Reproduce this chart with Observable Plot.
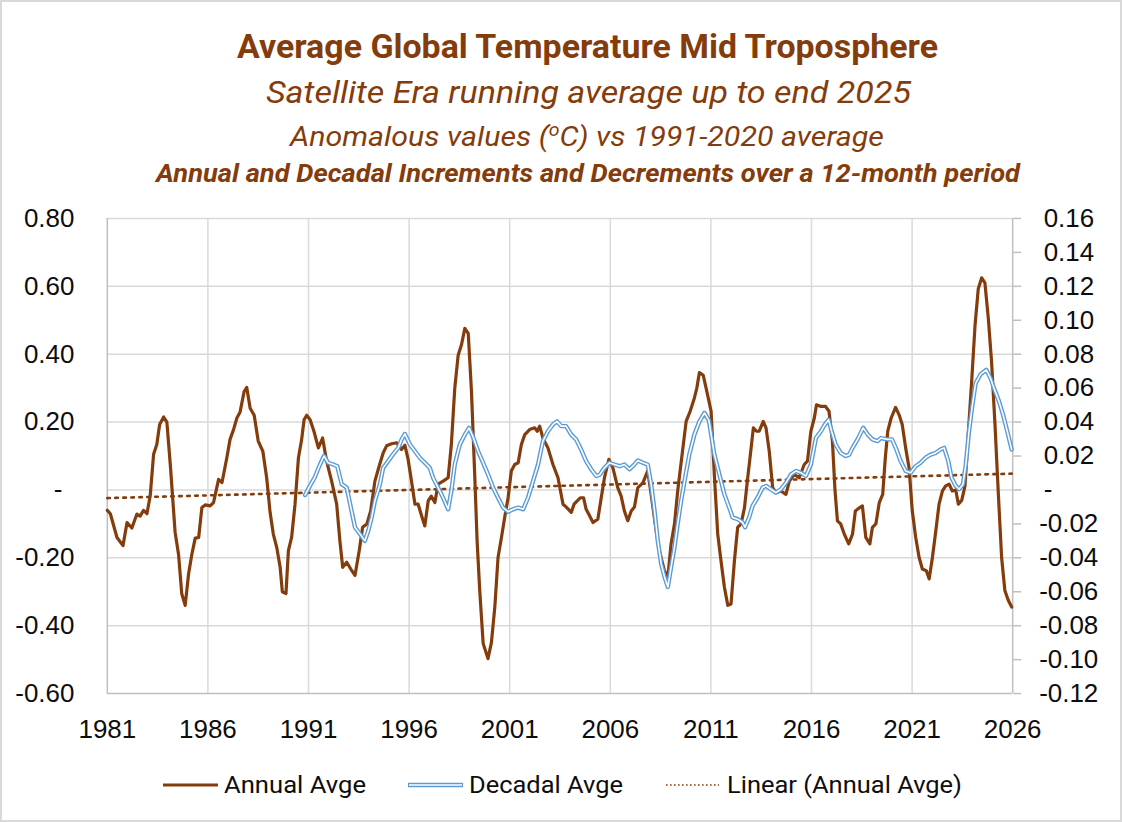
<!DOCTYPE html>
<html><head><meta charset="utf-8">
<script src="https://cdn.jsdelivr.net/npm/d3@7"></script>
<script src="https://cdn.jsdelivr.net/npm/@observablehq/plot@0.6"></script>
<style>
html,body{margin:0;padding:0;background:#fff;overflow:hidden}
#chart{position:relative;width:1122px;height:822px;box-sizing:border-box;border:2px solid #d9d9d9;background:#fff;overflow:hidden}
#titles{position:absolute;left:-2px;top:-2px}
#plot{position:absolute;left:-2px;top:186px}
#legend{position:absolute;left:-2px;top:756px}
</style></head>
<body>
<div id="chart"><div id="titles"></div><div id="plot"></div><div id="legend"></div></div>
<script>
// ---------- data ----------
const annualYear = [1981.0,1981.15,1981.48,1981.78,1981.98,1982.22,1982.47,1982.63,1982.8,1982.97,1983.13,1983.3,1983.46,1983.6,1983.8,1983.96,1984.13,1984.37,1984.54,1984.7,1984.87,1985.04,1985.2,1985.37,1985.54,1985.7,1985.87,1986.11,1986.28,1986.53,1986.7,1986.94,1987.1,1987.27,1987.44,1987.6,1987.8,1987.93,1988.1,1988.3,1988.5,1988.73,1988.92,1989.09,1989.25,1989.42,1989.59,1989.7,1989.88,1990.0,1990.16,1990.33,1990.5,1990.66,1990.78,1990.91,1991.08,1991.27,1991.49,1991.7,1991.9,1992.15,1992.4,1992.56,1992.7,1992.9,1993.1,1993.31,1993.52,1993.69,1993.9,1994.09,1994.3,1994.51,1994.71,1994.88,1995.13,1995.38,1995.62,1995.79,1995.95,1996.12,1996.29,1996.45,1996.62,1996.78,1996.95,1997.1,1997.28,1997.44,1997.69,1997.94,1998.1,1998.27,1998.44,1998.6,1998.77,1998.94,1999.1,1999.26,1999.38,1999.51,1999.68,1999.92,2000.09,2000.26,2000.42,2000.59,2000.75,2000.92,2001.08,2001.25,2001.42,2001.58,2001.75,2001.99,2002.24,2002.37,2002.49,2002.65,2002.9,2003.15,2003.4,2003.65,2003.8,2004.06,2004.2,2004.51,2004.67,2004.8,2004.97,2005.14,2005.38,2005.55,2005.71,2005.93,2006.13,2006.37,2006.54,2006.7,2006.87,2007.04,2007.2,2007.37,2007.62,2007.86,2008.03,2008.28,2008.44,2008.69,2008.86,2009.02,2009.19,2009.35,2009.57,2009.77,2009.97,2010.18,2010.3,2010.43,2010.62,2010.8,2011.01,2011.17,2011.34,2011.5,2011.67,2011.84,2012.0,2012.17,2012.33,2012.5,2012.67,2012.83,2013.0,2013.11,2013.27,2013.4,2013.6,2013.74,2013.9,2014.07,2014.23,2014.48,2014.73,2014.9,2015.14,2015.39,2015.64,2015.8,2015.97,2016.14,2016.25,2016.47,2016.7,2016.87,2017.04,2017.17,2017.29,2017.45,2017.63,2017.85,2018.04,2018.18,2018.4,2018.53,2018.7,2018.9,2019.03,2019.2,2019.37,2019.54,2019.67,2019.79,2019.96,2020.18,2020.35,2020.51,2020.68,2020.85,2021.01,2021.18,2021.35,2021.51,2021.71,2021.85,2022.01,2022.18,2022.34,2022.51,2022.67,2022.84,2023.0,2023.17,2023.3,2023.47,2023.63,2023.8,2023.97,2024.13,2024.29,2024.46,2024.62,2024.79,2024.95,2025.12,2025.28,2025.45,2025.61,2025.78,2025.95];
const annualValue = [-0.06,-0.07,-0.14,-0.164,-0.096,-0.112,-0.071,-0.077,-0.06,-0.07,-0.018,0.105,0.134,0.193,0.215,0.20,0.075,-0.125,-0.19,-0.306,-0.34,-0.247,-0.19,-0.142,-0.14,-0.052,-0.044,-0.047,-0.037,0.031,0.022,0.095,0.149,0.177,0.212,0.23,0.29,0.302,0.241,0.22,0.144,0.114,0.036,-0.066,-0.13,-0.169,-0.228,-0.30,-0.305,-0.179,-0.14,-0.042,0.095,0.149,0.207,0.22,0.207,0.173,0.124,0.153,0.085,0.026,-0.042,-0.15,-0.228,-0.213,-0.233,-0.252,-0.179,-0.11,-0.10,-0.062,0.026,0.07,0.109,0.13,0.136,0.139,0.119,0.132,0.09,0.026,-0.042,-0.042,-0.076,-0.106,-0.032,-0.018,-0.037,0.017,0.026,0.036,0.134,0.30,0.398,0.427,0.476,0.461,0.29,0.046,-0.15,-0.296,-0.452,-0.497,-0.45,-0.345,-0.199,-0.14,-0.081,-0.023,0.056,0.075,0.08,0.134,0.163,0.178,0.183,0.173,0.188,0.153,0.124,0.075,0.036,-0.042,-0.05,-0.066,-0.042,-0.023,-0.023,-0.057,-0.076,-0.096,-0.086,-0.023,0.036,0.09,0.065,0.007,-0.018,-0.062,-0.091,-0.062,-0.05,0.007,0.021,0.056,-0.013,-0.12,-0.179,-0.238,-0.257,-0.159,-0.10,-0.003,0.105,0.202,0.232,0.271,0.30,0.346,0.338,0.29,0.232,0.046,-0.13,-0.208,-0.286,-0.34,-0.336,-0.208,-0.11,-0.10,-0.052,0.036,0.124,0.183,0.173,0.173,0.202,0.183,0.114,0.007,-0.008,-0.003,-0.013,0.026,0.046,0.036,0.075,0.085,0.173,0.212,0.251,0.246,0.246,0.232,0.144,-0.003,-0.091,-0.10,-0.13,-0.159,-0.13,-0.062,-0.052,-0.047,-0.14,-0.159,-0.11,-0.10,-0.037,-0.013,0.095,0.173,0.212,0.243,0.222,0.193,0.124,0.065,-0.062,-0.14,-0.199,-0.233,-0.238,-0.262,-0.199,-0.12,-0.042,-0.003,0.012,0.017,-0.003,0.0,-0.042,-0.03,0.012,0.173,0.329,0.486,0.593,0.625,0.61,0.505,0.378,0.193,-0.003,-0.199,-0.296,-0.325,-0.345];

// Decadal average, in right-axis units
const decadalYear = [1990.83,1991.07,1991.3,1991.57,1991.77,1991.98,1992.23,1992.43,1992.65,1992.9,1993.14,1993.31,1993.56,1993.8,1993.97,1994.14,1994.3,1994.55,1994.71,1994.96,1995.2,1995.46,1995.63,1995.79,1996.04,1996.29,1996.53,1996.78,1997.03,1997.19,1997.44,1997.69,1997.94,1998.1,1998.27,1998.52,1998.77,1998.98,1999.2,1999.43,1999.68,1999.92,2000.17,2000.42,2000.67,2000.92,2001.17,2001.42,2001.67,2001.91,2002.16,2002.41,2002.65,2002.9,2003.15,2003.35,2003.56,2003.8,2004.06,2004.3,2004.55,2004.8,2005.05,2005.3,2005.47,2005.71,2005.96,2006.21,2006.46,2006.7,2006.95,2007.12,2007.37,2007.62,2007.86,2008.03,2008.2,2008.36,2008.53,2008.7,2008.86,2009.02,2009.19,2009.35,2009.52,2009.69,2009.93,2010.18,2010.43,2010.68,2010.9,2011.17,2011.42,2011.67,2011.91,2012.08,2012.33,2012.58,2012.7,2012.9,2013.07,2013.32,2013.57,2013.74,2013.98,2014.23,2014.48,2014.73,2014.98,2015.23,2015.47,2015.72,2015.97,2016.22,2016.47,2016.67,2016.85,2017.0,2017.2,2017.45,2017.7,2017.87,2018.04,2018.29,2018.57,2018.8,2019.03,2019.28,2019.45,2019.77,2020.0,2020.19,2020.43,2020.68,2020.93,2021.18,2021.42,2021.67,2021.92,2022.17,2022.41,2022.59,2022.8,2022.96,2023.17,2023.34,2023.53,2023.67,2023.83,2024.0,2024.16,2024.41,2024.69,2024.9,2025.07,2025.32,2025.52,2025.73,2025.95];
const decadalValue = [-0.003,0.0024,0.0072,0.015,0.020,0.016,0.015,0.014,0.0034,0.0014,-0.0124,-0.022,-0.026,-0.030,-0.024,-0.0162,-0.0064,0.0034,0.013,0.017,0.021,0.0248,0.0298,0.033,0.0268,0.0228,0.019,0.016,0.013,0.0072,0.0014,-0.0046,-0.0114,-0.0006,0.015,0.0268,0.0326,0.0366,0.0306,0.0228,0.016,0.0092,0.0014,-0.0046,-0.0104,-0.0128,-0.0114,-0.0104,-0.0114,-0.0046,0.0052,0.015,0.0288,0.0346,0.0386,0.0404,0.0376,0.0376,0.0326,0.0298,0.0238,0.017,0.0122,0.0082,0.009,0.013,0.016,0.015,0.014,0.015,0.0122,0.014,0.0174,0.016,0.015,0.0034,-0.0124,-0.030,-0.0436,-0.0514,-0.0572,-0.0456,-0.0338,-0.020,-0.0064,0.0052,0.021,0.0326,0.0404,0.0454,0.041,0.021,0.0092,-0.0026,-0.0104,-0.0162,-0.0172,-0.0192,-0.022,-0.0162,-0.0094,-0.0046,0.0014,0.0024,0.0004,-0.0016,0.0004,0.0042,0.0092,0.0112,0.0102,0.0082,0.015,0.0306,0.0346,0.0386,0.0414,0.0346,0.0268,0.0218,0.020,0.0208,0.0248,0.0298,0.0366,0.0326,0.0298,0.0288,0.0306,0.0298,0.0298,0.0248,0.017,0.0112,0.0102,0.014,0.016,0.019,0.0208,0.0218,0.0238,0.0248,0.017,0.0072,0.0024,0.0004,0.0034,0.015,0.0346,0.0502,0.063,0.0682,0.0708,0.0658,0.060,0.0522,0.0444,0.0346,0.0238];

// Linear trend of the annual average (end points)
const trendYear = [1981.0, 2025.95];
const trendValue = [-0.024, 0.048];

// Axes
const xTicks = [1981,1986,1991,1996,2001,2006,2011,2016,2021,2026];
const leftTicks = [-0.6,-0.4,-0.2,0,0.2,0.4,0.6,0.8];
const rightTicks = [-0.12,-0.10,-0.08,-0.06,-0.04,-0.02,0,0.02,0.04,0.06,0.08,0.10,0.12,0.14,0.16];
const axisRatio = 5; // left-axis units per right-axis unit

const titleText = "Average Global Temperature Mid Troposphere";
const subtitle1 = "Satellite Era running average up to end 2025";
const subtitle3 = "Annual and Decadal Increments and Decrements over a 12-month period";
const legendLabels = ["Annual Avge", "Decadal Avge", "Linear (Annual Avge)"];

// ---------- styles ----------
const brown = "#843C0C";
const blue = "#5B9BD5";
const gridCol = "#d9d9d9";
const axisCol = "#bfbfbf";
const narrow = "'Liberation Sans Narrow','Arial Narrow','Roboto','Noto Sans',sans-serif";
const tickFont = 26;

// ---------- titles ----------
const NS = "http://www.w3.org/2000/svg";
function svgEl(tag, attrs, parent) {
  const e = document.createElementNS(NS, tag);
  for (const k in attrs) e.setAttribute(k, attrs[k]);
  if (parent) parent.appendChild(e);
  return e;
}
const tsvg = svgEl("svg", {width:1122, height:190, viewBox:"0 0 1122 190"});
document.getElementById("titles").appendChild(tsvg);
function title(text, x, y, len, size, weight, style) {
  const t = svgEl("text", {x, y, "font-size":size, "font-weight":weight, "font-style":style,
    "font-family":narrow, fill:brown, textLength:len, lengthAdjust:"spacingAndGlyphs"}, tsvg);
  t.textContent = text;
  return t;
}
title(titleText, 237, 58, 701, 34, "bold", "normal");
title(subtitle1, 266, 103, 645, 32, "normal", "italic");
{
  const t = svgEl("text", {x:290, y:145.5, "font-size":28, "font-style":"italic",
    "font-family":narrow, fill:brown, textLength:594, lengthAdjust:"spacingAndGlyphs"}, tsvg);
  const a = svgEl("tspan", {}, t); a.textContent = "Anomalous values (";
  const b = svgEl("tspan", {dy:-10, "font-size":18}, t); b.textContent = "o";
  const c = svgEl("tspan", {dy:10}, t); c.textContent = "C) vs 1991-2020 average";
}
title(subtitle3, 156, 181.5, 864, 25, "bold", "italic");

// ---------- plot ----------
const fmt = d => Math.abs(d) < 1e-9 ? "-" : d.toFixed(2);
const plot = Plot.plot({
  width: 1122, height: 572,
  marginLeft: 107, marginRight: 108, marginTop: 30, marginBottom: 66,
  x: {domain: [1981, 2026]},
  y: {domain: [-0.6, 0.8]},
  style: {fontFamily: "'Liberation Sans', Arial, sans-serif", fontSize: "26px", color: "#0d0d0d", background: "transparent", overflow: "visible"},
  marks: [
    Plot.gridX(xTicks.slice(1, -1), {stroke: gridCol, strokeOpacity: 1, strokeWidth: 1.5}),
    Plot.gridY(leftTicks.slice(1), {stroke: gridCol, strokeOpacity: 1, strokeWidth: 1.5}),
    Plot.ruleX([1981, 2026], {stroke: axisCol, strokeWidth: 1.5}),
    Plot.ruleY([-0.6], {stroke: axisCol, strokeWidth: 1.5}),
    // x axis labels
    Plot.axisX(xTicks, {tickSize: 0, tickPadding: 26, fontSize: tickFont, tickFormat: d => String(d), fill: "#0d0d0d"}),
    // left axis labels
    Plot.axisY(leftTicks.filter(d => d !== 0), {anchor: "left", tickSize: 0, tickPadding: 33, fontSize: tickFont, tickFormat: fmt}),
    Plot.axisY([0], {anchor: "left", tickSize: 0, tickPadding: 45, fontSize: tickFont, tickFormat: fmt}),
    // right axis ticks and labels
    Plot.axisY(rightTicks.map(d => d * axisRatio), {anchor: "right", tickSize: 8, stroke: axisCol, strokeWidth: 1.5, tickFormat: () => ""}),
    Plot.axisY(rightTicks.filter(d => d >= 0).map(d => d * axisRatio), {anchor: "right", tickSize: 0, tickPadding: 31, fontSize: tickFont, tickFormat: d => fmt(d / axisRatio)}),
    Plot.axisY(rightTicks.filter(d => d < 0).map(d => d * axisRatio), {anchor: "right", tickSize: 0, tickPadding: 26.5, fontSize: tickFont, tickFormat: d => fmt(d / axisRatio)}),
    // series
    Plot.line(trendYear, {x: trendYear, y: trendValue, stroke: brown, strokeWidth: 2.6, strokeDasharray: "2.6,5.4"}),
    Plot.line(annualYear, {x: annualYear, y: annualValue, stroke: brown, strokeWidth: 3.2, strokeLinejoin: "round"}),
    Plot.line(decadalYear, {x: decadalYear, y: decadalValue.map(v => v * axisRatio), stroke: blue, strokeWidth: 4.4}),
    Plot.line(decadalYear, {x: decadalYear, y: decadalValue.map(v => v * axisRatio), stroke: "#ffffff", strokeWidth: 1.6})
  ]
});
document.getElementById("plot").appendChild(plot);

// ---------- legend ----------
const lsvg = svgEl("svg", {width:1122, height:60, viewBox:"0 0 1122 60"});
document.getElementById("legend").appendChild(lsvg);
const ly = 27;
const items = [
  {x1:163, x2:218, tx:224, len:142},
  {x1:408, x2:463, tx:469, len:154},
  {x1:666, x2:719, tx:727, len:235}
];
svgEl("line", {x1:items[0].x1, x2:items[0].x2, y1:ly, y2:ly, stroke:brown, "stroke-width":3}, lsvg);
svgEl("line", {x1:items[1].x1, x2:items[1].x2, y1:ly, y2:ly, stroke:blue, "stroke-width":4.4}, lsvg);
svgEl("line", {x1:items[1].x1+1, x2:items[1].x2-1, y1:ly, y2:ly, stroke:"#fff", "stroke-width":1.6}, lsvg);
svgEl("line", {x1:items[2].x1, x2:items[2].x2, y1:ly, y2:ly, stroke:brown, "stroke-width":1.6, "stroke-dasharray":"1.6,2.4"}, lsvg);
items.forEach((it, i) => {
  const t = svgEl("text", {x:it.tx, y:ly + 8, "font-size":23, "font-family":narrow, fill:"#0d0d0d",
    textLength:it.len, lengthAdjust:"spacingAndGlyphs"}, lsvg);
  t.textContent = legendLabels[i];
});
</script>
</body></html>
